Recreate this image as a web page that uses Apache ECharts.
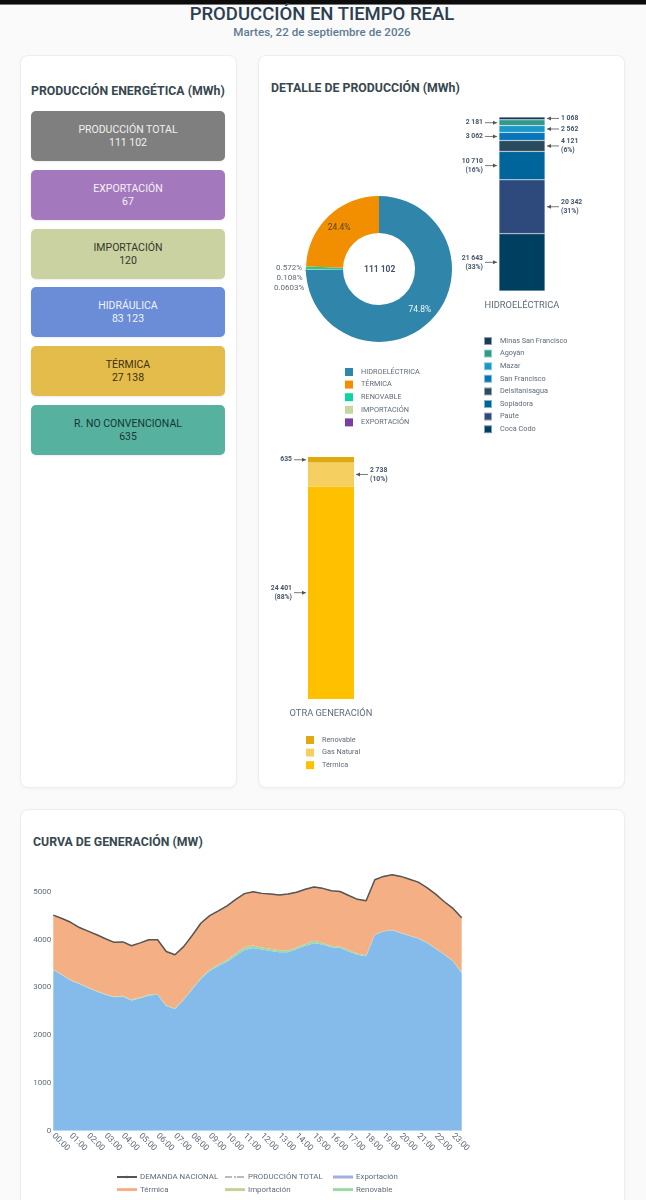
<!DOCTYPE html>
<html lang="es">
<head>
<meta charset="UTF-8">
<title>Producción en tiempo real</title>
<script src="https://cdn.jsdelivr.net/npm/echarts@6/dist/echarts.min.js"></script>
<style>
    html, body { margin: 0; height: 1200px; overflow: hidden; background: #fafafa; font-family: Roboto, sans-serif; }
    #topbar { position: absolute; left: 0; top: 0; width: 646px; height: 4px; background: #0c0c0c; border-bottom: 1px solid #777; }
    #titulo { position: absolute; left: 0; top: 4px; width: 644px; text-align: center; font-size: 18.5px; font-weight: 500; line-height: 20px; color: #2c3e50; }
    #fecha { position: absolute; left: 0; top: 25px; width: 644px; text-align: center; font-size: 11.6px; font-weight: 500; line-height: 14px; color: #5d7a94; }
    .card { position: absolute; box-sizing: border-box; background: #fff; border: 1px solid #eeeeee; border-radius: 8px; box-shadow: 0 1px 3px rgba(0,0,0,0.04); }
    .head { position: absolute; font-size: 12.3px; font-weight: 700; line-height: 14px; color: #37474f; white-space: nowrap; }
    .kpi { position: absolute; left: 31px; width: 194px; height: 50px; box-sizing: border-box; padding-top: 13px; border-radius: 5px; text-align: center; font-size: 10.5px; line-height: 12.6px; box-shadow: 0 1px 2px rgba(0,0,0,0.08); }
    .chart { position: absolute; }
</style>
</head>
<body>
<div id="topbar"></div>
<div id="titulo">PRODUCCIÓN EN TIEMPO REAL</div>
<div id="fecha">Martes, 22 de septiembre de 2026</div>

<div class="card" style="left:20px;top:55px;width:217px;height:733px"></div>
<div class="card" style="left:258px;top:55px;width:367px;height:733px"></div>
<div class="card" style="left:20px;top:809px;width:605px;height:420px"></div>

<div class="head" style="left:31px;top:84px">PRODUCCIÓN ENERGÉTICA (MWh)</div>
<div class="head" style="left:271px;top:81px">DETALLE DE PRODUCCIÓN (MWh)</div>
<div class="head" style="left:33px;top:835px">CURVA DE GENERACIÓN (MW)</div>

<div class="kpi" style="top:111px;background:#7f7f7f;color:#f0f0f0">PRODUCCIÓN TOTAL<br>111 102</div>
<div class="kpi" style="top:170px;background:#a478bd;color:#f5f0f8">EXPORTACIÓN<br>67</div>
<div class="kpi" style="top:229px;background:#cad2a2;color:#33382a">IMPORTACIÓN<br>120</div>
<div class="kpi" style="top:287px;background:#6b8cd6;color:#f0f3fb">HIDRÁULICA<br>83 123</div>
<div class="kpi" style="top:346px;background:#e4bc4c;color:#3d3010">TÉRMICA<br>27 138</div>
<div class="kpi" style="top:405px;background:#56b29f;color:#17352f">R. NO CONVENCIONAL<br>635</div>

<div id="dona" class="chart" style="left:260px;top:120px;width:200px;height:320px"></div>
<div id="hidro" class="chart" style="left:440px;top:105px;width:180px;height:400px"></div>
<div id="otra" class="chart" style="left:260px;top:445px;width:200px;height:400px"></div>
<div id="curva" class="chart" style="left:20px;top:850px;width:604px;height:420px"></div>

<script type="text/javascript">
// datos de la dona
var donaNombres = ['HIDROELÉCTRICA', 'EXPORTACIÓN', 'IMPORTACIÓN', 'RENOVABLE', 'TÉRMICA'];
var donaValores = [83123, 67, 120, 635, 27138];
var donaColores = ['#3085ab', '#7b3fa0', '#c5d6a0', '#10d49f', '#f18f01'];
var donaLeyenda = ['HIDROELÉCTRICA', 'TÉRMICA', 'RENOVABLE', 'IMPORTACIÓN', 'EXPORTACIÓN'];

// centrales hidro, de abajo hacia arriba
var hidroNombres = ['Coca Codo', 'Paute', 'Sopladora', 'Delsitanisagua', 'San Francisco', 'Mazar', 'Agoyán', 'Minas San Francisco'];
var hidroValores = [21643, 20342, 10710, 4121, 3062, 2562, 2181, 1068];
var hidroColores = ['#003f5f', '#2e4a7d', '#00659a', '#2a4a5e', '#0a74b8', '#1a96c8', '#2f9a8a', '#1a3a5c'];
var hidroLados = ['left', 'right', 'left', 'right', 'left', 'right', 'left', 'right'];
var hidroPct = ['33%', '31%', '16%', '6%', '', '', '', ''];

var otraNombres = ['Térmica', 'Gas Natural', 'Renovable'];
var otraValores = [24401, 2738, 635];
var otraColores = ['#ffc000', '#f5d060', '#e0aa0f'];
var otraLados = ['left', 'right', 'left'];
var otraPct = ['88%', '10%', ''];

// curva de generacion, cada media hora
var horas = ['00:00','00:30','01:00','01:30','02:00','02:30','03:00','03:30','04:00','04:30','05:00','05:30','06:00','06:30','07:00','07:30','08:00','08:30','09:00','09:30','10:00','10:30','11:00','11:30','12:00','12:30','13:00','13:30','14:00','14:30','15:00','15:30','16:00','16:30','17:00','17:30','18:00','18:30','19:00','19:30','20:00','20:30','21:00','21:30','22:00','22:30','23:00','23:30'];
var demanda = [4510,4440,4360,4250,4175,4100,4015,3940,3950,3870,3930,3995,3995,3750,3680,3850,4090,4345,4500,4600,4705,4840,4960,5000,4965,4950,4930,4950,4990,5050,5100,5070,5020,5005,4920,4840,4810,5250,5320,5355,5320,5260,5200,5085,4950,4790,4650,4455];
var produccion = [4510,4440,4360,4250,4175,4100,4015,3940,3950,3870,3930,3995,3995,3750,3680,3850,4090,4345,4500,4600,4705,4840,4960,5000,4965,4950,4930,4950,4990,5050,5100,5070,5020,5005,4920,4840,4810,5250,5320,5355,5320,5260,5200,5085,4950,4790,4650,4455];
var hidraulica = [3360,3255,3140,3070,2985,2910,2845,2790,2810,2725,2770,2830,2845,2610,2545,2735,2960,3180,3340,3445,3535,3660,3780,3820,3790,3760,3735,3735,3800,3870,3920,3895,3840,3820,3750,3680,3650,4100,4165,4195,4130,4075,4020,3925,3805,3680,3545,3300];
var exportacion = [0,0,0,0,0,0,0,0,0,0,0,0,0,0,0,0,0,0,0,0,0,0,0,0,0,0,0,0,0,0,0,0,0,0,0,0,0,0,0,0,0,0,0,0,0,0,0,0];
var importacion = [5,5,5,5,5,5,5,5,5,5,5,5,0,0,0,0,0,0,0,0,0,0,0,0,0,0,0,0,0,0,0,0,0,0,0,0,0,0,0,0,0,0,0,0,0,0,0,0];
var renovable = [8,8,8,8,10,10,10,10,10,15,15,15,15,12,12,15,20,25,25,30,35,50,60,55,45,45,40,40,35,35,55,30,30,30,30,20,20,10,10,10,10,10,10,10,10,10,10,10];
var termica = [1137,1172,1207,1167,1175,1175,1155,1135,1125,1125,1140,1145,1135,1128,1123,1100,1110,1140,1135,1125,1135,1130,1120,1125,1130,1145,1155,1175,1155,1145,1125,1145,1150,1155,1140,1140,1140,1140,1145,1150,1180,1175,1170,1150,1135,1100,1095,1145];

var fuente = 'Roboto';
var colorTexto = '#5f6b7a';
var colorDato = '#44546a';

function miles(v) {
    return String(v).replace(/\B(?=(\d{3})+(?!\d))/g, ' ');
}

// barra apilada con etiquetas y flechas a los lados
function barraApilada(id, categoria, nombres, valores, colores, lados, pct, gridCfg, leyendaCfg) {
    var chart = echarts.init(document.getElementById(id));
    var total = valores.reduce(function (a, b) { return a + b; }, 0);
    var acum = 0;
    var marcas = valores.map(function (v, i) {
        var medio = acum + v / 2;
        acum += v;
        return [0, medio, i];
    });
    var series = nombres.map(function (n, i) {
        return {
            name: n,
            type: 'bar',
            stack: 'a',
            barWidth: '100%',
            data: [valores[i]],
            itemStyle: { color: colores[i], borderColor: 'rgba(255,255,255,0.5)', borderWidth: id === 'hidro' ? 0.5 : 0 }
        };
    });
    series.push({
        type: 'custom',
        silent: true,
        clip: false,
        encode: { x: 0, y: 1 },
        data: marcas,
        renderItem: function (params, api) {
            var i = api.value(2);
            var p = api.coord([0, api.value(1)]);
            var mitad = api.size([1, 0])[0] / 2;
            var s = lados[i] === 'left' ? -1 : 1;
            var punta = p[0] + s * (mitad + 2);
            var cola = punta + s * 12;
            var texto = miles(valores[i]) + (pct[i] ? '\n(' + pct[i] + ')' : '');
            return {
                type: 'group',
                children: [
                    { type: 'line', shape: { x1: cola, y1: p[1], x2: punta, y2: p[1] }, style: { stroke: '#555', lineWidth: 0.8 } },
                    { type: 'polygon', shape: { points: [[punta, p[1]], [punta + s * 4, p[1] - 2], [punta + s * 4, p[1] + 2]] }, style: { fill: '#555' } },
                    { type: 'text', x: cola + s * 2, y: p[1], style: { text: texto, fontFamily: fuente, fontSize: 6.8, fontWeight: 'bold', lineHeight: 9, fill: colorDato, align: s < 0 ? 'right' : 'left', verticalAlign: 'middle' } }
                ]
            };
        }
    });
    chart.setOption({
        animation: false,
        legend: Object.assign({
            orient: 'vertical',
            padding: 0,
            data: nombres.slice().reverse(),
            icon: 'rect',
            itemWidth: 8,
            itemHeight: 8,
            itemGap: 4.6,
            textStyle: { fontFamily: fuente, fontSize: 7.3, color: colorTexto, padding: [0, 0, 0, 3] }
        }, leyendaCfg),
        grid: gridCfg,
        xAxis: {
            type: 'category',
            data: [categoria],
            axisLine: { show: false },
            axisTick: { show: false },
            axisLabel: { fontFamily: fuente, fontSize: 9.3, color: colorTexto, margin: 10, interval: 0 }
        },
        yAxis: { type: 'value', min: 0, max: total, show: false },
        series: series
    });
}

// dona
var donaTotal = donaValores.reduce(function (a, b) { return a + b; }, 0);
var dona = echarts.init(document.getElementById('dona'));
dona.setOption({
    animation: false,
    color: donaColores,
    legend: {
        orient: 'vertical',
        padding: 0,
        left: 85,
        top: 248,
        data: donaLeyenda,
        icon: 'rect',
        itemWidth: 8,
        itemHeight: 8,
        itemGap: 4.6,
        textStyle: { fontFamily: fuente, fontSize: 7.3, color: colorTexto, padding: [0, 0, 0, 3] }
    },
    graphic: [{
        type: 'text',
        left: 104,
        top: 145,
        style: { text: miles(111102), fontFamily: fuente, fontSize: 8.5, fontWeight: 'bold', fill: colorDato }
    }],
    series: [{
        type: 'pie',
        center: [119, 149],
        radius: [36, 73],
        startAngle: 90,
        avoidLabelOverlap: true,
        minShowLabelAngle: 0,
        data: donaNombres.map(function (n, i) {
            var interior = donaValores[i] > 10000;
            return {
                name: n,
                value: donaValores[i],
                label: interior ? { position: 'inside', fontSize: 8.5, color: i === 0 ? '#eef6fa' : '#5a4420' } : { position: 'outside', fontSize: 8 },
                labelLine: { show: !interior, length: 2, length2: 2, lineStyle: { color: '#556', width: 0.7 } }
            };
        }),
        label: {
            fontFamily: fuente,
            color: colorTexto,
            formatter: function (p) {
                return (p.value / donaTotal * 100).toPrecision(3) + '%';
            }
        }
    }]
});

barraApilada('hidro', 'HIDROELÉCTRICA', hidroNombres, hidroValores, hidroColores, hidroLados, hidroPct,
    { left: 59, width: 46, top: 12, height: 174 }, { left: 43, top: 231, itemGap: 2.6 });
barraApilada('otra', 'OTRA GENERACIÓN', otraNombres, otraValores, otraColores, otraLados, otraPct,
    { left: 48, width: 46, top: 12, height: 242 }, { left: 46, top: 291 });

// curva
function areaSerie(nombre, datos, color) {
    return {
        name: nombre,
        type: 'line',
        stack: 'gen',
        symbol: 'none',
        data: datos,
        lineStyle: { width: 0, color: color },
        itemStyle: { color: color },
        areaStyle: { color: color, opacity: 1 }
    };
}
var leyendaBase = {
    orient: 'vertical',
    padding: 0,
    top: 323,
    itemWidth: 20,
    itemHeight: 3,
    itemGap: 4.6,
    textStyle: { fontFamily: fuente, fontSize: 7.9, color: colorTexto, padding: [0, 0, 0, -2] }
};
function leyenda(left, nombres) {
    return Object.assign({}, leyendaBase, {
        left: left,
        data: nombres.map(function (n) {
            return n === 'DEMANDA NACIONAL' || n === 'PRODUCCIÓN TOTAL' ? { name: n } : { name: n, icon: 'rect' };
        })
    });
}
var curva = echarts.init(document.getElementById('curva'));
curva.setOption({
    animation: false,
    legend: [
        leyenda(96, ['DEMANDA NACIONAL', 'Térmica']),
        leyenda(204, ['PRODUCCIÓN TOTAL', 'Importación']),
        leyenda(313, ['Exportación', 'Renovable'])
    ],
    grid: { left: 33.3, width: 408.4, top: 17.8, height: 262.9 },
    xAxis: {
        type: 'category',
        boundaryGap: false,
        data: horas,
        axisLine: { show: false },
        axisTick: { show: false },
        axisLabel: { fontFamily: fuente, fontSize: 8.5, color: colorTexto, rotate: -45, interval: 1, margin: 4 }
    },
    yAxis: {
        type: 'value',
        min: 0,
        max: 5500,
        interval: 1000,
        splitLine: { show: false },
        axisLabel: { fontFamily: fuente, fontSize: 8, color: colorTexto, margin: 2, padding: [2, 0, 0, 0], showMaxLabel: false, formatter: function (v) { return String(v); } }
    },
    series: [
        areaSerie('Hidráulica', hidraulica, '#85bbea'),
        areaSerie('Exportación', exportacion, '#a3aede'),
        areaSerie('Importación', importacion, '#c5d09a'),
        areaSerie('Renovable', renovable, '#9fd8a8'),
        areaSerie('Térmica', termica, '#f4b084'),
        {
            name: 'PRODUCCIÓN TOTAL',
            type: 'line',
            symbol: 'none',
            data: produccion,
            itemStyle: { color: '#b8bdb8' },
            lineStyle: { color: '#b8bdb8', width: 1, type: [7, 5] }
        },
        {
            name: 'DEMANDA NACIONAL',
            type: 'line',
            symbol: 'none',
            data: demanda,
            itemStyle: { color: '#555555' },
            lineStyle: { color: '#555555', width: 1.5 }
        }
    ]
});
</script>
</body>
</html>
